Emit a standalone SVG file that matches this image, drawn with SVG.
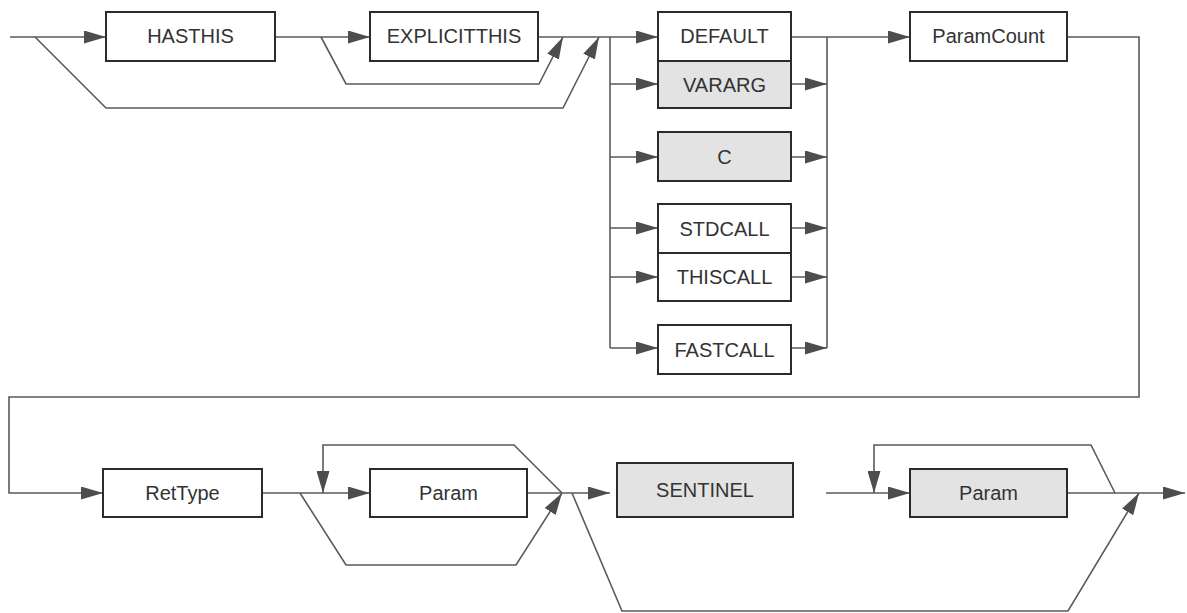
<svg xmlns="http://www.w3.org/2000/svg" width="1187" height="613" viewBox="0 0 1187 613">
<style>
.box{fill:#ffffff;stroke:#2b2b2b;stroke-width:2}
.grey{fill:#e3e3e3}
.lbl{font-family:"Liberation Sans",Arial,sans-serif;font-size:20px;fill:#333333;text-anchor:middle}
.ln{fill:none;stroke:#5a5a5a;stroke-width:1.6}
.ar{marker-end:url(#ah)}
</style>
<defs>
<marker id="ah" viewBox="0 0 22 13" refX="22" refY="6.5" markerWidth="22" markerHeight="13" markerUnits="userSpaceOnUse" orient="auto">
<path d="M0,0 L22,6.5 L0,13 z" fill="#4d4d4d"/>
</marker>
</defs>
<g id="connectors">
<path class="ln ar" d="M10,37 L106,37"/>
<path class="ln ar" d="M35,37 L106,108 L563,108 L599,37"/>
<path class="ln ar" d="M275,37 L370,37"/>
<path class="ln ar" d="M321,37 L346,84 L539,84 L563,37"/>
<path class="ln ar" d="M538,37 L658,37"/>
<path class="ln" d="M610,37 L610,348"/>
<path class="ln ar" d="M610,84 L658,84"/>
<path class="ln ar" d="M610,157 L658,157"/>
<path class="ln ar" d="M610,228 L658,228"/>
<path class="ln ar" d="M610,277 L658,277"/>
<path class="ln ar" d="M610,348 L658,348"/>
<path class="ln ar" d="M791,37 L910,37"/>
<path class="ln" d="M827,37 L827,348"/>
<path class="ln ar" d="M791,84 L827,84"/>
<path class="ln ar" d="M791,157 L827,157"/>
<path class="ln ar" d="M791,228 L827,228"/>
<path class="ln ar" d="M791,277 L827,277"/>
<path class="ln ar" d="M791,348 L827,348"/>
<path class="ln ar" d="M1067,37 L1139,37 L1139,397 L9,397 L9,493 L103,493"/>
<path class="ln ar" d="M262,493 L370,493"/>
<path class="ln ar" d="M300,493 L346,565 L516,565 L562,493"/>
<path class="ln ar" d="M562,493 L514,445 L323,445 L323,493"/>
<path class="ln ar" d="M527,493 L610,493"/>
<path class="ln ar" d="M572,493 L622,611 L1068,611 L1139,493"/>
<path class="ln ar" d="M826,493 L910,493"/>
<path class="ln ar" d="M1115,493 L1091,445 L874,445 L874,493"/>
<path class="ln ar" d="M1067,493 L1185,493"/>
</g>
<g id="n-hasthis"><rect class="box" x="106" y="12" width="169" height="49"/><text class="lbl" x="190.5" y="43">HASTHIS</text></g>
<g id="n-explicitthis"><rect class="box" x="370" y="12" width="168" height="49"/><text class="lbl" x="454" y="43">EXPLICITTHIS</text></g>
<g id="n-default"><rect class="box" x="658" y="12" width="133" height="49"/><text class="lbl" x="724.5" y="43">DEFAULT</text></g>
<g id="n-vararg"><rect class="box grey" x="658" y="61" width="133" height="47"/><text class="lbl" x="724.5" y="91.5">VARARG</text></g>
<g id="n-c"><rect class="box grey" x="658" y="132" width="133" height="49"/><text class="lbl" x="724.5" y="163.5">C</text></g>
<g id="n-stdcall"><rect class="box" x="658" y="204" width="133" height="49"/><text class="lbl" x="724.5" y="235.5">STDCALL</text></g>
<g id="n-thiscall"><rect class="box" x="658" y="253" width="133" height="48"/><text class="lbl" x="724.5" y="284">THISCALL</text></g>
<g id="n-fastcall"><rect class="box" x="658" y="325" width="133" height="49"/><text class="lbl" x="724.5" y="356.5">FASTCALL</text></g>
<g id="n-paramcount"><rect class="box" x="910" y="12" width="157" height="49"/><text class="lbl" x="988.5" y="43">ParamCount</text></g>
<g id="n-rettype"><rect class="box" x="103" y="469" width="159" height="48"/><text class="lbl" x="182.5" y="500">RetType</text></g>
<g id="n-param1"><rect class="box" x="370" y="469" width="157" height="48"/><text class="lbl" x="448.5" y="500">Param</text></g>
<g id="n-sentinel"><rect class="box grey" x="617" y="463" width="176" height="54"/><text class="lbl" x="705" y="497">SENTINEL</text></g>
<g id="n-param2"><rect class="box grey" x="910" y="469" width="157" height="48"/><text class="lbl" x="988.5" y="500">Param</text></g>
</svg>
